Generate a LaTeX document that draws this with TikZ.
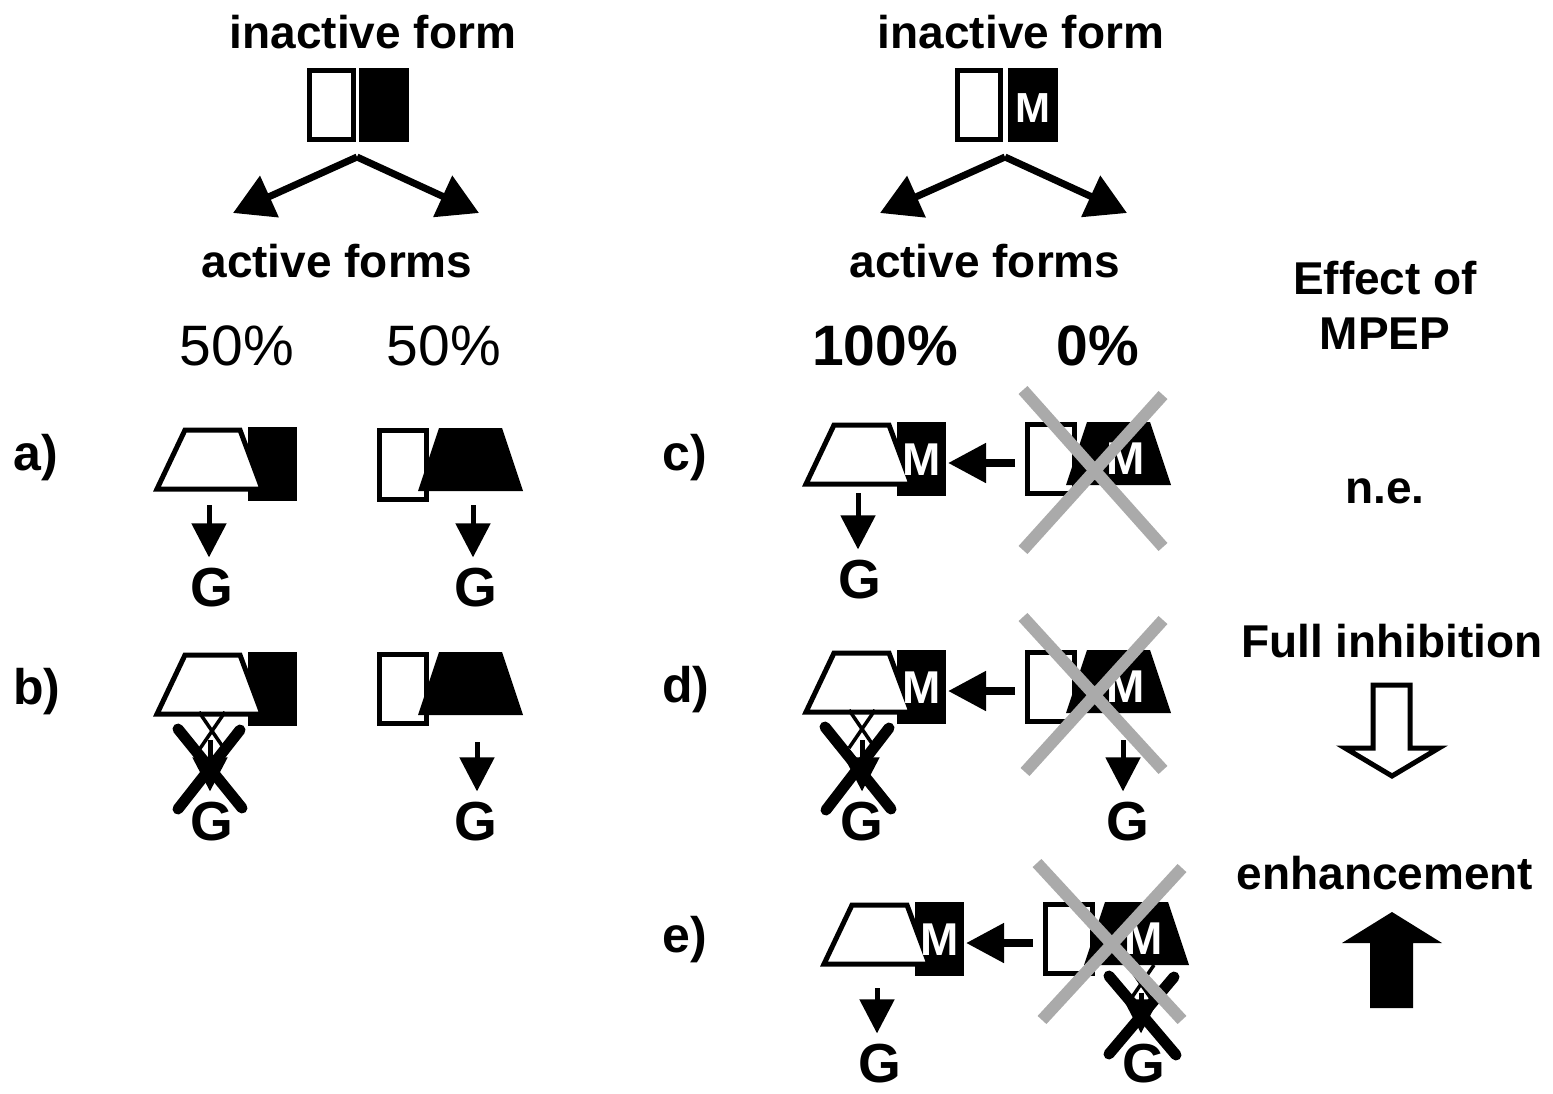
\documentclass[tikz,border=0pt]{standalone}
\usepackage{fontspec}
\setmainfont{Liberation Sans}
\usetikzlibrary{arrows.meta,positioning,calc}
\definecolor{crossgray}{RGB}{170,170,170}

\tikzset{
    frame/.style={draw, fill=white, line width=5pt},
    mtag/.style={font=\fontsize{46}{52}\selectfont\bfseries, text=white, inner sep=0pt},
    % trapezoid form in front of the black block
    leftform/.pic={
        \fill (0,0) rectangle (49,74);
        \draw [frame, line join=miter] (-91,62) -- (-63,3) -- (-8,3) -- (14,62) -- cycle;
        \node [mtag] (-m) at (25,38) {#1};
        \coordinate (-e) at (51,41);
    },
    % open block beside the black trapezoid
    rightform/.pic={
        \draw [frame] (2.5,2.5) rectangle (49.5,71.5);
        \fill (41,63) -- (62,0) -- (125,0) -- (146,63) -- cycle;
        \node [mtag] (-m) at (101,37) {#1};
        \coordinate (-w) at (-10,41);
    }
}

\begin{document}
\begin{tikzpicture}[x=1pt, y=-1pt,
    lbl/.style={font=\fontsize{46}{52}\selectfont\bfseries, inner sep=0pt, anchor=base},
    pct/.style={font=\fontsize{57}{64}\selectfont, inner sep=0pt, anchor=base},
    tag/.style={font=\fontsize{50}{56}\selectfont\bfseries, inner sep=0pt, anchor=base west},
    gprot/.style={font=\fontsize{55}{60}\selectfont\bfseries, inner sep=0pt, anchor=base},
    split/.style={line width=7pt, -{Triangle[length=40pt,width=44pt]}},
    gArrow/.style={line width=5pt, shorten >=10pt, -{Triangle[length=34pt,width=34pt]}},
    convArrow/.style={line width=8pt, -{Triangle[length=38pt,width=38pt]}},
    thinX/.style={line width=3.5pt},
    bigX/.style={line width=11pt, line cap=round},
    grayX/.style={line width=12pt, crossgray}]

    \useasboundingbox (0,0) rectangle (1553,1093);

    % Left side: normal receptor
    \node [lbl] (inactL) at (373,48) {inactive form};
    \draw [frame] (309.5,70.5) rectangle (353.5,139.5);
    \fill (359,68) rectangle (409,142);
    \coordinate (apexL) at (357,157);
    \coordinate (tipLL) at (233,213);
    \coordinate (tipLR) at (479,213);
    \draw [split] (apexL) -- (tipLL);
    \draw [split] (apexL) -- (tipLR);
    \node [lbl] (actL) at (337,277) {active forms};
    \node [pct] (pctL1) at (237,365) {50\%};
    \node [pct] (pctL2) at (444,365) {50\%};

    % Row a
    \node [tag] (labA) at (13,470) {a)};
    \pic (a1) at (248,427) {leftform};
    \pic (a2) at (377,428) {rightform};
    \node [gprot] (gA1) at (212,606) {G};
    \node [gprot] (gA2) at (476,606) {G};
    \coordinate (a1s) at (209,505);
    \coordinate (a2s) at (473,505);
    \draw [gArrow] (a1s) -- (a1s |- gA1.north);
    \draw [gArrow] (a2s) -- (a2s |- gA2.north);

    % Row b
    \node [tag] (labB) at (13,704) {b)};
    \pic (b1) at (248,652) {leftform};
    \pic (b2) at (377,652) {rightform};
    \node [gprot] (gB1) at (212,840) {G};
    \node [gprot] (gB2) at (476,840) {G};
    \coordinate (b1s) at (210,740);
    \coordinate (b2s) at (477,742);
    \draw [gArrow] (b1s) -- (b1s |- gB1.north);
    \draw [gArrow] (b2s) -- (b2s |- gB2.north);
    \draw [thinX] (199,712) -- (225,750) (225,712) -- (199,750);
    \draw [bigX] (178,729) -- (242,808) (240,730) -- (178,809);

    % Right side: receptor with M
    \node [lbl] (inactR) at (1021,48) {inactive form};
    \draw [frame] (957.5,70.5) rectangle (1000.5,139.5);
    \fill (1008,68) rectangle (1058,142);
    \node [mtag, font=\fontsize{42}{46}\selectfont\bfseries] (mTop) at (1033,108) {M};
    \coordinate (apexR) at (1005,157);
    \coordinate (tipRL) at (880,213);
    \coordinate (tipRR) at (1127,213);
    \draw [split] (apexR) -- (tipRL);
    \draw [split] (apexR) -- (tipRR);
    \node [lbl] (actR) at (985,277) {active forms};
    \node [pct, font=\fontsize{57}{64}\selectfont\bfseries] (pctR1) at (885,365) {100\%};
    \node [pct, font=\fontsize{57}{64}\selectfont\bfseries] (pctR2) at (1098,365) {0\%};

    % Row c
    \node [tag] (labC) at (662,470) {c)};
    \pic (c1) at (897,422) {leftform=M};
    \pic (c2) at (1025,422) {rightform=M};
    \draw [convArrow] (c2-w) -- (c1-e);
    \node [gprot] (gC1) at (860,598) {G};
    \coordinate (c1s) at (858,493);
    \draw [gArrow] (c1s) -- (c1s |- gC1.north);
    \draw [grayX] (1023,390) -- (1163,547) (1163,395) -- (1023,550);

    % Row d
    \node [tag] (labD) at (662,702) {d)};
    \pic (d1) at (897,650) {leftform=M};
    \pic (d2) at (1025,650) {rightform=M};
    \draw [convArrow] (d2-w) -- (d1-e);
    \node [gprot] (gD1) at (862,840) {G};
    \node [gprot] (gD2) at (1128,840) {G};
    \coordinate (d1s) at (862,740);
    \coordinate (d2s) at (1123,740);
    \draw [gArrow] (d1s) -- (d1s |- gD1.north);
    \draw [gArrow] (d2s) -- (d2s |- gD2.north);
    \draw [thinX] (849,710) -- (875,748) (875,710) -- (849,748);
    \draw [bigX] (825,727) -- (891,809) (889,728) -- (826,810);
    \draw [grayX] (1023,617) -- (1163,770) (1163,620) -- (1025,772);

    % Row e
    \node [tag] (labE) at (662,952) {e)};
    \pic (e1) at (915,902) {leftform=M};
    \pic (e2) at (1043,902) {rightform=M};
    \draw [convArrow] (e2-w) -- (e1-e);
    \node [gprot] (gE1) at (880,1082) {G};
    \node [gprot] (gE2) at (1144,1082) {G};
    \coordinate (e1s) at (877,988);
    \coordinate (e2s) at (1141,993);
    \draw [gArrow] (e1s) -- (e1s |- gE1.north);
    \draw [gArrow] (e2s) -- (e2s |- gE2.north);
    \draw [thinX] (1128,965) -- (1154,1003) (1154,965) -- (1128,1003);
    \draw [bigX] (1109,976) -- (1176,1055) (1174,977) -- (1109,1054);
    \draw [grayX] (1037,863) -- (1182,1020) (1182,868) -- (1042,1020);

    % Effect of MPEP
    \node [lbl] (effect) at (1385,294) {Effect of};
    \node [lbl] (mpep) at (1385,349) {MPEP};
    \node [lbl] (ne) at (1385,503) {n.e.};
    \node [lbl] (inhib) at (1392,657) {Full inhibition};
    \draw [line width=5pt, line join=miter, fill=white] (1373,685) -- (1410,685) -- (1410,748) -- (1439,748) -- (1392,776) -- (1345,748) -- (1373,748) -- cycle;
    \node [lbl] (enh) at (1385,889) {enhancement};
    \fill (1392,912) -- (1442,943) -- (1413,943) -- (1413,1008) -- (1370,1008) -- (1370,943) -- (1342,943) -- cycle;
\end{tikzpicture}
\end{document}
